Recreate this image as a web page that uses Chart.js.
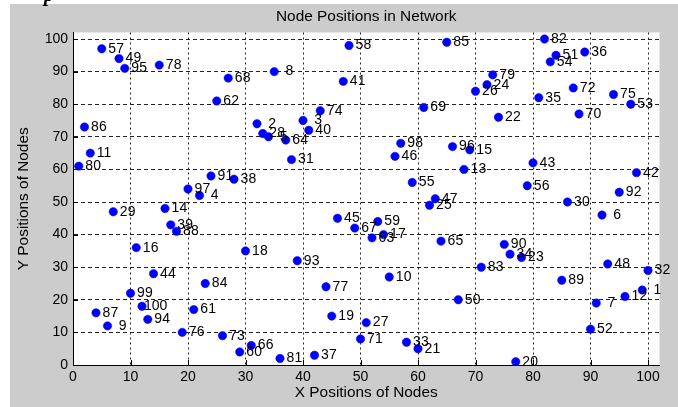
<!DOCTYPE html>
<html>
<head>
<meta charset="utf-8">
<script src="https://cdn.jsdelivr.net/npm/chart.js@4/dist/chart.umd.min.js"></script>
<style>
  html, body { margin: 0; padding: 0; background: #ffffff; }
  #wrap { position: relative; width: 678px; height: 407px; }
  canvas { display: block; }
</style>
</head>
<body>
<div id="wrap"><canvas id="net" width="678" height="407"></canvas></div>
<script>
// Node numbers and their (x, y) positions in the field
const nodeIds = Array.from({ length: 100 }, (_, i) => i + 1);
const xPos = [99, 32, 40, 22, 34, 92, 91, 35, 6, 55,
              3, 96, 68, 16, 69, 11, 54, 30, 45, 77,
              60, 74, 78, 72, 62, 70, 51, 33, 7, 86,
              38, 100, 58, 76, 81, 89, 42, 28, 17, 41,
              47, 98, 80, 14, 46, 56, 63, 93, 8, 67,
              84, 90, 97, 83, 59, 79, 5, 48, 53, 29,
              21, 25, 52, 37, 64, 31, 49, 27, 61, 88,
              50, 87, 26, 43, 94, 19, 44, 15, 73, 1,
              36, 82, 71, 23, 65, 2, 4, 18, 85, 75,
              24, 95, 39, 13, 9, 66, 20, 57, 10, 12];
const yPos = [23, 74, 75, 52, 70, 46, 19, 90, 12, 27,
              65, 21, 60, 48, 66, 36, 40, 35, 15, 1,
              5, 76, 33, 86, 49, 84, 13, 71, 47, 50,
              63, 29, 7, 34, 82, 96, 3, 57, 43, 72,
              87, 59, 62, 28, 45, 64, 51, 31, 94, 20,
              95, 11, 80, 93, 56, 55, 97, 98, 44, 4,
              17, 81, 39, 69, 38, 6, 42, 88, 79, 77,
              8, 85, 9, 78, 83, 10, 24, 92, 89, 61,
              2, 100, 30, 25, 99, 73, 16, 41, 26, 37,
              58, 53, 32, 14, 91, 67, 54, 68, 22, 18];
const tickValues = [0, 10, 20, 30, 40, 50, 60, 70, 80, 90, 100];

const chartTitle = 'Node Positions in Network';
const xTitle = 'X Positions of Nodes';
const yTitle = 'Y Positions of Nodes';

const FONT = '"Liberation Sans", Arial, Helvetica, sans-serif';

const points = xPos.map((x, i) => ({ x: x, y: yPos[i] }));

// Figure background: grey panel with a white plotting box
const backdrop = {
  id: 'backdrop',
  beforeDraw(chart) {
    const { ctx, chartArea: a } = chart;
    ctx.save();
    ctx.fillStyle = '#ffffff';
    ctx.fillRect(0, 0, chart.width, chart.height);
    ctx.fillStyle = '#cccccc';
    ctx.fillRect(10, 4, chart.width - 10, chart.height - 4);
    ctx.fillStyle = '#ffffff';
    ctx.fillRect(a.left, a.top, a.right - a.left, a.bottom - a.top);
    // tail of the caption letter above the figure
    ctx.fillStyle = '#000000';
    ctx.font = 'italic bold 20px "Liberation Serif", "Times New Roman", serif';
    ctx.textBaseline = 'alphabetic';
    ctx.fillText('p', 44, 1);
    ctx.restore();
  }
};

// Inward tick marks, plot title and node number labels
const decorations = {
  id: 'decorations',
  afterDatasetsDraw(chart) {
    const { ctx, chartArea: a, scales } = chart;
    ctx.save();
    ctx.strokeStyle = '#000000';
    ctx.lineWidth = 1;
    ctx.beginPath();
    tickValues.forEach(v => {
      const px = Math.round(scales.x.getPixelForValue(v)) + 0.5;
      ctx.moveTo(px, a.bottom);
      ctx.lineTo(px, a.bottom - 5);
      const py = Math.round(scales.y.getPixelForValue(v)) + 0.5;
      ctx.moveTo(a.left, py);
      ctx.lineTo(a.left + 5, py);
    });
    ctx.stroke();

    ctx.fillStyle = '#000000';
    ctx.font = '15.4px ' + FONT;
    ctx.textAlign = 'center';
    ctx.textBaseline = 'middle';
    ctx.fillText(chartTitle, (a.left + a.right) / 2, 17);

    const meta = chart.getDatasetMeta(0);
    ctx.font = '14px ' + FONT;
    ctx.textAlign = 'left';
    meta.data.forEach((pt, i) => {
      const s = String(nodeIds[i]);
      const off = 2 + 4.6 * (3 - s.length);
      ctx.fillText(s, pt.x + off, pt.y);
    });
    ctx.restore();
  }
};

new Chart(document.getElementById('net'), {
  type: 'scatter',
  data: {
    datasets: [{
      label: 'Nodes',
      data: points,
      pointStyle: 'circle',
      pointRadius: 4.2,
      pointHoverRadius: 4.2,
      pointBackgroundColor: '#0000ff',
      pointBorderColor: '#0000ff',
      pointBorderWidth: 0.5
    }]
  },
  options: {
    responsive: false,
    animation: false,
    events: [],
    layout: { padding: { top: 32.5, right: 18.5, left: 0, bottom: 0 } },
    plugins: {
      legend: { display: false },
      tooltip: { enabled: false },
      title: { display: false }
    },
    scales: {
      x: {
        type: 'linear',
        min: 0,
        max: 102,
        afterFit(scale) { scale.height = 42; },
        afterBuildTicks(scale) { scale.ticks = tickValues.map(v => ({ value: v })); },
        ticks: {
          includeBounds: false,
          color: '#000000',
          font: { family: FONT, size: 14 },
          padding: 4,
          maxRotation: 0,
          autoSkip: false
        },
        grid: { color: '#222222', lineWidth: 1, drawTicks: false },
        border: { display: true, color: '#000000', width: 1, dash: [2, 3] },
        title: {
          display: true,
          text: xTitle,
          color: '#000000',
          font: { family: FONT, size: 15.4 },
          padding: { top: 0, bottom: 5 }
        }
      },
      y: {
        type: 'linear',
        min: 0,
        max: 102,
        afterFit(scale) { scale.width = 73; },
        afterBuildTicks(scale) { scale.ticks = tickValues.map(v => ({ value: v })); },
        ticks: {
          includeBounds: false,
          color: '#000000',
          font: { family: FONT, size: 14 },
          padding: 5,
          autoSkip: false
        },
        grid: { color: '#222222', lineWidth: 1, drawTicks: false },
        border: { display: true, color: '#000000', width: 1, dash: [4, 3] },
        title: {
          display: true,
          text: yTitle,
          color: '#000000',
          font: { family: FONT, size: 15.4 },
          padding: { top: 15, bottom: 0 }
        }
      }
    }
  },
  plugins: [backdrop, decorations]
});
</script>
</body>
</html>
